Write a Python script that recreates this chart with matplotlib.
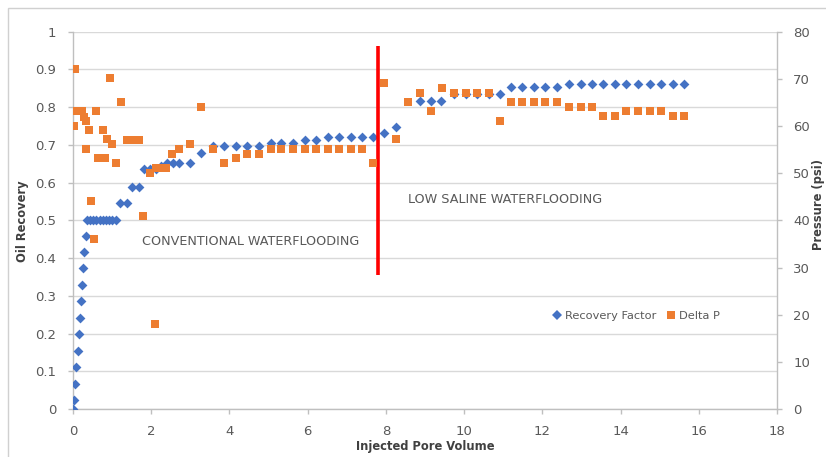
import matplotlib
matplotlib.use("Agg")
import matplotlib.pyplot as plt
from matplotlib.lines import Line2D
from matplotlib.patches import Rectangle

# Recovery factor (left axis) vs injected pore volume
pv_rf = [0.00, 0.02, 0.04, 0.08, 0.13, 0.15, 0.18, 0.20, 0.24, 0.26, 0.28, 0.32,
         0.36, 0.44, 0.52, 0.60, 0.68, 0.76, 0.84, 0.92, 1.00, 1.10,
         1.20, 1.37, 1.52, 1.68, 1.82, 1.96, 2.11, 2.26, 2.40, 2.55, 2.70, 2.98,
         3.26, 3.58, 3.87, 4.17, 4.46, 4.76, 5.05, 5.33, 5.63, 5.92, 6.22, 6.52,
         6.81, 7.10, 7.38, 7.67, 7.96, 8.25, 8.87, 9.15, 9.42,
         9.74, 10.04, 10.33, 10.63, 10.91, 11.20, 11.48, 11.78, 12.08, 12.37,
         12.69, 12.99, 13.28, 13.56, 13.85, 14.15, 14.45, 14.75, 15.04, 15.33, 15.62]
rf = [0.000, 0.024, 0.067, 0.110, 0.155, 0.198, 0.242, 0.286, 0.328, 0.373, 0.415, 0.459,
      0.502, 0.502, 0.502, 0.502, 0.502, 0.502, 0.502, 0.502, 0.502, 0.502,
      0.547, 0.547, 0.589, 0.589, 0.635, 0.635, 0.635, 0.645, 0.652, 0.652, 0.652, 0.652,
      0.678, 0.696, 0.696, 0.696, 0.696, 0.696, 0.704, 0.704, 0.704, 0.713, 0.713, 0.722,
      0.722, 0.722, 0.722, 0.722, 0.731, 0.747, 0.817, 0.817, 0.817,
      0.835, 0.835, 0.835, 0.835, 0.835, 0.853, 0.853, 0.853, 0.853, 0.853,
      0.861, 0.861, 0.861, 0.861, 0.861, 0.861, 0.861, 0.861, 0.861, 0.861, 0.861]

# Delta P (right axis, psi)
pv_dp = [0.03, 0.06, 0.09, 0.16, 0.23, 0.28, 0.32, 0.33, 0.40, 0.47, 0.53, 0.58,
         0.64, 0.77, 0.81, 0.87, 0.94, 1.00, 1.11, 1.22, 1.37, 1.52, 1.69, 1.79,
         1.96, 2.09, 2.11, 2.25, 2.39, 2.54, 2.71, 2.98, 3.28, 3.58, 3.87, 4.17,
         4.46, 4.76, 5.05, 5.33, 5.63, 5.92, 6.22, 6.52, 6.81, 7.10, 7.38, 7.67,
         7.96, 8.25, 8.57, 8.87, 9.15, 9.44, 9.74, 10.04, 10.33, 10.63, 10.91,
         11.20, 11.48, 11.78, 12.08, 12.37, 12.69, 12.99, 13.28, 13.56, 13.85,
         14.15, 14.45, 14.75, 15.04, 15.33, 15.62]
dp = [60.1, 72.0, 63.2, 63.2, 63.2, 62.0, 61.1, 55.1, 59.2, 44.0, 36.0, 63.2,
      53.2, 59.2, 53.2, 57.2, 70.1, 56.2, 52.1, 65.2, 57.0, 57.0, 57.0, 41.0,
      50.0, 18.0, 51.0, 51.0, 51.0, 54.1, 55.1, 56.2, 64.0, 55.1, 52.1, 53.2,
      54.1, 54.1, 55.1, 55.1, 55.1, 55.1, 55.1, 55.1, 55.1, 55.1, 55.1, 52.1,
      69.1, 57.2, 65.0, 67.0, 63.2, 68.0, 67.0, 67.0, 67.0, 67.0, 61.0,
      65.0, 65.0, 65.0, 65.0, 65.0, 64.0, 64.0, 64.0, 62.1, 62.1,
      63.2, 63.2, 63.2, 63.2, 62.1, 62.1]

x_ticks = list(range(0, 19, 2))
rf_ticks = [i / 10 for i in range(11)]
rf_labels = ["0", "0.1", "0.2", "0.3", "0.4", "0.5", "0.6", "0.7", "0.8", "0.9", "1"]
dp_ticks = list(range(0, 81, 10))

switch_pv = 7.8  # change from conventional to low saline flooding

blue = "#4472C4"
orange = "#ED7D31"
grey_txt = "#595959"
grid_c = "#D9D9D9"
axis_c = "#BFBFBF"

plt.rcParams["font.family"] = ["DejaVu Sans"]

fig = plt.figure(figsize=(8.26, 4.57), dpi=100)
# chart border (runs off the right and bottom edges like the source)
fig.patches.append(Rectangle((8 / 826, -0.1), 1.0, 1.1 - 8 / 457,
                             transform=fig.transFigure, fill=False,
                             edgecolor="#D0D0D0", linewidth=1))
ax = fig.add_axes([73 / 826, 1 - 409 / 457, 704 / 826, 377.3 / 457])
ax2 = ax.twinx()

ax.scatter(pv_rf, rf, marker="D", s=5.0 ** 2, color=blue, linewidths=0, zorder=3)
ax2.scatter(pv_dp, dp, marker="s", s=6.4 ** 2, color=orange, linewidths=0, zorder=3)

ax.set_xlim(0, 18)
ax.set_ylim(0, 1)
ax2.set_ylim(0, 80)
ax.set_xticks(x_ticks)
ax.set_yticks(rf_ticks)
ax.set_yticklabels(rf_labels)
ax2.set_yticks(dp_ticks)

ax.grid(axis="y", color=grid_c, linewidth=1)
ax.set_axisbelow(True)

for a in (ax, ax2):
    for s in ("top", "right", "left", "bottom"):
        a.spines[s].set_visible(False)
ax.spines["left"].set_visible(True)
ax.spines["bottom"].set_visible(True)
ax2.spines["right"].set_visible(True)
for sp in (ax.spines["left"], ax.spines["bottom"], ax2.spines["right"]):
    sp.set_color(axis_c)
    sp.set_linewidth(1)

ax.tick_params(axis="both", colors=axis_c, labelcolor=grey_txt, labelsize=9.5,
               length=3.6, width=1)
ax.tick_params(axis="x", pad=8)
ax.tick_params(axis="y", pad=8.5)
ax2.tick_params(axis="y", colors=axis_c, labelcolor=grey_txt, labelsize=9.5,
                length=3.6, width=1, pad=8)

lab_kw = dict(fontsize=8.3, color="#404040", fontweight="bold")
ax.set_xlabel("Injected Pore Volume", **lab_kw)
ax.set_ylabel("Oil Recovery", **lab_kw)
ax2.set_ylabel("Pressure (psi)", rotation=90, **lab_kw)
ax.xaxis.set_label_coords(0.5, (409 - 446.5) / 377.3)
ax.yaxis.set_label_coords((22.5 - 73) / 704, (409 - 221) / 377.3)
ax2.yaxis.set_label_coords((818 - 73) / 704, (409 - 204) / 377.3)
for lab in (ax.xaxis.label, ax.yaxis.label, ax2.yaxis.label):
    lab.set_verticalalignment("center")
    lab.set_horizontalalignment("center")

ax.plot([switch_pv, switch_pv], [0.355, 0.962], color="#FF0000", linewidth=2.6,
        zorder=4, solid_capstyle="butt")

ax.text(4.53, 0.445, "CONVENTIONAL WATERFLOODING", fontsize=9.2, color=grey_txt,
        ha="center", va="center")
ax.text(11.04, 0.554, "LOW SALINE WATERFLOODING", fontsize=9.2, color=grey_txt,
        ha="center", va="center")

handles = [Line2D([], [], marker="D", linestyle="none", color=blue, markersize=4.8,
                  markeredgewidth=0),
           Line2D([], [], marker="s", linestyle="none", color=orange, markersize=6,
                  markeredgewidth=0)]
ax2.legend(handles, ["Recovery Factor", "Delta P"], loc="center",
           bbox_to_anchor=((636 - 73) / 704, (409 - 316) / 377.3),
           bbox_transform=ax2.transAxes, frameon=False, ncol=2, fontsize=8.2,
           labelcolor=grey_txt, handlelength=0.8, handletextpad=0.3,
           columnspacing=0.9)

fig.savefig("out.png", dpi=100)
